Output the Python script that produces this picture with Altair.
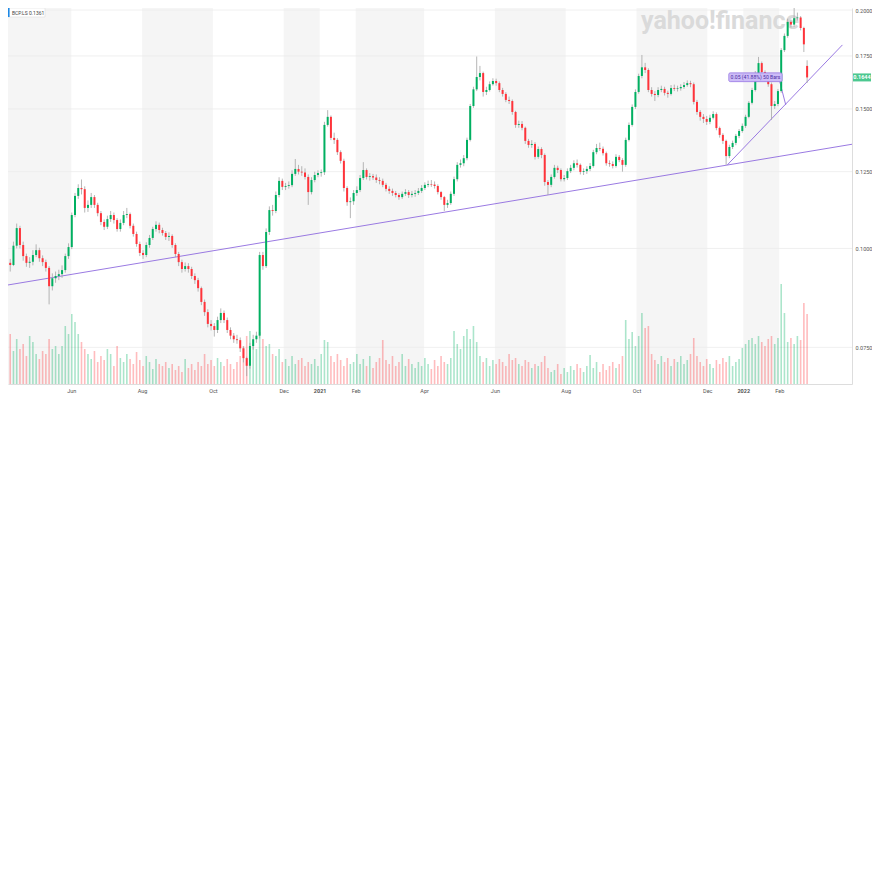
import altair as alt
import pandas as pd

# ---------------- data ----------------
first_open = 0.0995
open_gaps = {249: 0.1700}   # candle index -> opening price after a gap
closes = [
    .0989, .0992, .0959, .0953, .1008, .1061, .1010, .0978, .0959, .0962,
    .0981, .0995, .0972, .0961, .0945, .0896, .0917, .0923, .0928, .0939,
    .0978, .1004, .1102, .1165, .1192, .1188, .1125, .1135, .1161, .1135,
    .1108, .1080, .1065, .1089, .1102, .1086, .1058, .1077, .1102, .1105,
    .1068, .1043, .1013, .0987, .0981, .1010, .1031, .1058, .1071, .1055,
    .1046, .1034, .1037, .1010, .0984, .0961, .0942, .0950, .0942, .0923,
    .0912, .0891, .0856, .0831, .0803, .0798, .0789, .0812, .0829, .0812,
    .0789, .0776, .0768, .0766, .0748, .0727, .0711, .0753, .0768, .0776,
    .0981, .0950, .1049, .1118, .1115, .1168, .1217, .1196, .1199, .1202,
    .1242, .1260, .1250, .1247, .1231, .1178, .1220, .1238, .1245, .1248,
    .1432, .1466, .1379, .1371, .1323, .1290, .1192, .1144, .1147, .1175,
    .1185, .1227, .1256, .1231, .1234, .1229, .1220, .1217, .1203, .1189,
    .1182, .1175, .1168, .1161, .1172, .1178, .1168, .1172, .1175, .1182,
    .1192, .1203, .1206, .1204, .1199, .1178, .1161, .1135, .1141, .1172,
    .1223, .1275, .1281, .1300, .1371, .1513, .1588, .1646, .1665, .1576,
    .1585, .1612, .1627, .1617, .1585, .1567, .1540, .1535, .1487, .1432,
    .1436, .1420, .1367, .1351, .1355, .1305, .1335, .1312, .1213, .1203,
    .1231, .1264, .1256, .1223, .1227, .1252, .1264, .1281, .1275, .1249,
    .1252, .1260, .1271, .1323, .1339, .1336, .1319, .1281, .1278, .1271,
    .1305, .1293, .1275, .1371, .1432, .1509, .1576, .1651, .1693, .1680,
    .1585, .1567, .1562, .1585, .1590, .1572, .1567, .1594, .1590, .1593,
    .1599, .1608, .1617, .1612, .1531, .1487, .1466, .1457, .1445, .1462,
    .1478, .1419, .1391, .1367, .1308, .1343, .1359, .1387, .1407, .1428,
    .1466, .1527, .1585, .1665, .1714, .1670, .1636, .1612, .1513, .1522,
    .1580, .1780, .1855, .1932, .1917, .1953, .1957, .1898, .1810, .1644,
]
highs = [
    .1010, .1005, .0998, .0970, .1020, .1075, .1068, .1020, .0985, .0975,
    .0995, .1012, .1002, .0980, .0968, .0950, .0930, .0935, .0940, .0952,
    .0985, .1015, .1110, .1175, .1205, .1222, .1198, .1150, .1175, .1168,
    .1142, .1115, .1088, .1100, .1115, .1110, .1092, .1088, .1115, .1125,
    .1110, .1075, .1050, .1020, .0995, .1018, .1040, .1065, .1082, .1078,
    .1062, .1052, .1048, .1042, .1015, .0990, .0968, .0960, .0958, .0948,
    .0930, .0918, .0895, .0862, .0838, .0812, .0805, .0820, .0840, .0835,
    .0818, .0795, .0782, .0778, .0772, .0752, .0730, .0760, .0778, .0785,
    .0990, .0990, .1060, .1130, .1135, .1180, .1230, .1225, .1210, .1215,
    .1255, .1297, .1275, .1270, .1262, .1240, .1230, .1250, .1255, .1258,
    .1445, .1495, .1472, .1400, .1378, .1330, .1298, .1198, .1160, .1185,
    .1198, .1238, .1285, .1262, .1245, .1242, .1240, .1230, .1225, .1210,
    .1198, .1190, .1182, .1175, .1180, .1188, .1185, .1182, .1185, .1192,
    .1202, .1212, .1218, .1220, .1215, .1205, .1182, .1165, .1152, .1180,
    .1232, .1285, .1295, .1312, .1380, .1522, .1600, .1747, .1700, .1672,
    .1600, .1625, .1640, .1638, .1625, .1595, .1575, .1555, .1542, .1492,
    .1450, .1448, .1425, .1375, .1370, .1362, .1345, .1342, .1318, .1220,
    .1240, .1275, .1272, .1262, .1238, .1262, .1275, .1292, .1295, .1280,
    .1262, .1270, .1282, .1332, .1355, .1360, .1345, .1325, .1292, .1288,
    .1315, .1312, .1300, .1380, .1442, .1520, .1588, .1662, .1755, .1715,
    .1688, .1598, .1580, .1598, .1605, .1600, .1582, .1608, .1610, .1605,
    .1612, .1622, .1630, .1628, .1620, .1540, .1495, .1478, .1470, .1475,
    .1490, .1485, .1425, .1398, .1372, .1352, .1368, .1395, .1415, .1438,
    .1475, .1535, .1595, .1675, .1745, .1722, .1678, .1645, .1620, .1535,
    .1590, .1790, .1868, .1950, .1945, .2035, .1985, .1965, .1905, .1728,
]
lows = [
    .0975, .0970, .0945, .0935, .0950, .1000, .1000, .0965, .0948, .0945,
    .0952, .0975, .0962, .0950, .0935, .0850, .0885, .0905, .0912, .0918,
    .0932, .0970, .0998, .1095, .1155, .1170, .1110, .1112, .1125, .1125,
    .1098, .1070, .1055, .1058, .1080, .1075, .1050, .1050, .1070, .1092,
    .1060, .1035, .1005, .0978, .0970, .0975, .1002, .1025, .1050, .1045,
    .1038, .1025, .1022, .1002, .0975, .0950, .0932, .0935, .0932, .0915,
    .0902, .0882, .0848, .0822, .0795, .0788, .0774, .0782, .0805, .0805,
    .0782, .0768, .0760, .0758, .0740, .0718, .0690, .0705, .0745, .0760,
    .0770, .0940, .0945, .1040, .1100, .1108, .1160, .1185, .1185, .1190,
    .1195, .1235, .1240, .1235, .1222, .1135, .1170, .1212, .1230, .1232,
    .1238, .1425, .1370, .1355, .1312, .1280, .1180, .1132, .1092, .1135,
    .1165, .1178, .1220, .1222, .1218, .1220, .1210, .1205, .1195, .1180,
    .1172, .1165, .1160, .1152, .1155, .1165, .1158, .1160, .1162, .1168,
    .1175, .1185, .1195, .1196, .1190, .1170, .1152, .1115, .1125, .1135,
    .1165, .1215, .1265, .1270, .1292, .1365, .1505, .1580, .1630, .1555,
    .1562, .1578, .1605, .1605, .1575, .1555, .1530, .1522, .1475, .1420,
    .1420, .1410, .1355, .1340, .1340, .1295, .1298, .1300, .1200, .1168,
    .1195, .1225, .1245, .1215, .1215, .1220, .1245, .1255, .1265, .1240,
    .1238, .1242, .1252, .1265, .1315, .1328, .1310, .1272, .1268, .1262,
    .1265, .1285, .1250, .1268, .1365, .1425, .1500, .1568, .1640, .1665,
    .1575, .1555, .1535, .1552, .1575, .1560, .1550, .1560, .1580, .1578,
    .1582, .1590, .1600, .1598, .1520, .1475, .1450, .1440, .1432, .1435,
    .1455, .1410, .1380, .1355, .1275, .1300, .1335, .1350, .1378, .1400,
    .1420, .1460, .1520, .1578, .1655, .1660, .1625, .1600, .1453, .1500,
    .1512, .1572, .1770, .1845, .1900, .1905, .1940, .1885, .1770, .1618,
]
volumes = [  # millions of shares
    45, 55, 40, 50, 33, 45, 35, 40, 28, 48, 42, 30,
    25, 33, 30, 45, 35, 38, 30, 38, 58, 50, 70, 62, 50, 42, 35,
    30, 25, 33, 22, 28, 24, 35, 30, 18, 38, 26, 22, 30, 25, 20, 32, 24, 18,
    28, 22, 15, 25, 20, 18, 22, 16, 20, 14, 18, 12, 25, 16, 20, 14, 22, 18,
    30, 20, 24, 18, 26, 22, 18, 25, 20, 15, 22, 28, 38, 48, 53, 40, 35, 52,
    45, 38, 40, 30, 28, 35, 22, 25, 18, 28, 20, 24, 26, 18, 22, 20, 25, 18,
    30, 44, 42, 28, 22, 30, 24, 18, 26, 20, 22, 30, 20, 25, 18, 28, 16, 22,
    26, 44, 24, 20, 28, 18, 22, 30, 18, 25, 20, 16, 22, 18, 26, 20, 15, 24,
    18, 28, 22, 20, 26, 53, 40, 35, 48, 55, 45, 58, 42, 28, 22, 26, 18, 24,
    20, 25, 22, 18, 30, 24, 26, 20, 18, 24, 22, 16, 20, 18, 22, 28, 16, 12,
    14, 20, 10, 16, 12, 18, 14, 20, 16, 12, 18, 29, 16, 22, 12, 20, 14, 18,
    22, 16, 20, 28, 64, 45, 52, 38, 48, 71, 56, 58, 30, 24, 20, 28, 22, 26,
    18, 25, 22, 28, 20, 24, 30, 46, 28, 22, 18, 25, 20, 16, 24, 20, 26, 22,
    28, 18, 22, 25, 36, 40, 44, 46, 40, 48, 42, 38, 45, 48, 40, 46, 100, 71,
    42, 46, 40, 48, 44, 81, 70,
]
assert len(closes) == len(highs) == len(lows) == len(volumes), (
    len(closes), len(highs), len(lows), len(volumes))

tick_prices = [0.075, 0.1, 0.125, 0.15, 0.175, 0.2]
month_ticks = [(2020, 6), (2020, 8), (2020, 10), (2020, 12), (2021, 1), (2021, 2),
               (2021, 4), (2021, 6), (2021, 8), (2021, 10), (2021, 12), (2022, 1), (2022, 2)]
band_starts = ["2020-04-01", "2020-08-01", "2020-12-01", "2021-02-01", "2021-06-01", "2021-10-01", "2022-01-01"]
band_ends = ["2020-06-01", "2020-10-01", "2021-01-01", "2021-04-01", "2021-08-01", "2021-12-01", "2022-02-01"]

trend_ids = ["t1", "t1", "t2", "t2", "m", "m"]
trend_dates = ["2020-04-05T00:00:00Z", "2022-04-06T07:00:00Z",
               "2021-12-18T07:00:00Z", "2022-03-27T10:00:00Z",
               "2022-02-01T10:00:00Z", "2022-02-06T14:00:00Z"]
trend_prices = [0.0898, 0.1355, 0.1275, 0.1807, 0.1624, 0.1518]

last_price = 0.1644
legend_text = "BCP.LS 0.1361"
measure_text = "0.05 (41.88%) 50 Bars"

# ---------------- frames ----------------
n = len(closes)
dates = pd.date_range("2020-04-01", "2022-02-25", periods=n, tz="UTC")
opens = [first_open] + closes[:-1]
for k, v in open_gaps.items():
    opens[k] = v
df = pd.DataFrame({
    "date": dates.strftime("%Y-%m-%dT%H:%M:%SZ"),
    "open": opens, "close": closes, "high": highs, "low": lows, "volume": volumes,
})
df["dir"] = ["up" if c >= o else "down" for o, c in zip(opens, closes)]

bands = pd.DataFrame({"start": band_starts, "end": band_ends})
grid = pd.DataFrame({"p": tick_prices})
trend = pd.DataFrame({"id": trend_ids, "date": trend_dates, "price": trend_prices})
box = pd.DataFrame({"d1": ["2021-12-19T12:00:00Z"], "d2": ["2022-02-03T12:00:00Z"],
                    "dm": ["2022-01-11T12:00:00Z"],
                    "p1": [0.1666], "p2": [0.1624], "pm": [0.1645], "label": [measure_text]})
tag = pd.DataFrame({"p": [last_price], "label": [f"{last_price:.4f}"]})
leg = pd.DataFrame({"label": [legend_text]})
wm = pd.DataFrame({"label": ["yahoo!finance"]})

W, H = 844, 376
FONT = "Roboto"
GREEN, RED = "#00b061", "#ff333a"
PURPLE = "#8e6bdf"

x_scale = alt.Scale(type="utc", domain=[
    alt.DateTime(year=2020, month=4, date=11, hours=18, minutes=23, utc=True),
    alt.DateTime(year=2022, month=3, date=31, hours=8, minutes=53, utc=True)])
p_scale = alt.Scale(type="log", domain=[0.06743, 0.20117], nice=False)

x_axis = alt.Axis(
    values=[alt.DateTime(year=y, month=m, date=1, utc=True) for y, m in month_ticks],
    labelExpr="utcmonth(datum.value) == 0 ? utcFormat(datum.value, '%Y') : utcFormat(datum.value, '%b')",
    labelFontWeight={"condition": {"test": "utcmonth(datum.value) == 0", "value": "bold"}, "value": "normal"},
    title=None, ticks=False, grid=False, domainColor="#dddddd",
    labelFontSize=5.5, labelColor="#555555", labelPadding=4, labelFont=FONT)
y_axis = alt.Axis(orient="right", values=tick_prices, format=".4f", title=None,
                  ticks=False, grid=False, domainColor="#dddddd",
                  labelFontSize=5.5, labelColor="#555555", labelPadding=3, labelFont=FONT)

X = lambda f: alt.X(f, type="temporal", scale=x_scale, axis=x_axis)
Yp = lambda f: alt.Y(f, type="quantitative", scale=p_scale, axis=y_axis)
col = alt.Color("dir:N", scale=alt.Scale(domain=["up", "down"], range=[GREEN, RED]), legend=None)

band_layer = alt.Chart(bands).mark_rect(color="#f5f5f5", clip=True).encode(
    x=X("start"), x2="end", y=alt.value(0), y2=alt.value(H))
grid_layer = alt.Chart(grid).mark_rule(color="#ececec", strokeWidth=0.8).encode(
    y=alt.Y("p:Q", scale=p_scale, axis=None))
wm_layer = alt.Chart(wm).mark_text(font=FONT, fontSize=25, fontWeight="bold", color="#dadada",
                                   align="center", baseline="alphabetic").encode(
    x=alt.value(712), y=alt.value(21), text="label:N")
vol_layer = alt.Chart(df).mark_bar(width=1.6, opacity=0.33).encode(
    x=X("date"), y=alt.Y("volume:Q", scale=alt.Scale(domain=[0, 376], nice=False), axis=None),
    color=col)

trend_layer = alt.Chart(trend).mark_line(color=PURPLE, strokeWidth=0.9, clip=True).encode(
    x=X("date"), y=Yp("price"), detail="id:N")
wick_layer = alt.Chart(df).mark_rule(color="#a3a3a3", strokeWidth=0.8, clip=True).encode(
    x=X("date"), y=Yp("low"), y2="high")
body_layer = alt.Chart(df).mark_bar(width=2, clip=True).encode(
    x=X("date"), y=Yp("open"), y2="close", color=col)
box_layer = alt.Chart(box).mark_rect(fill="#cdbcf7", stroke=PURPLE, strokeWidth=0.7,
                                     cornerRadius=1.5).encode(
    x=X("d1"), x2="d2", y=Yp("p1"), y2="p2")
box_text = alt.Chart(box).mark_text(font=FONT, fontSize=5.1, color="#4b2fa3",
                                    align="center", baseline="middle").encode(
    x=X("dm"), y=Yp("pm"), text="label:N")
tag_layer = alt.Chart(tag).mark_tick(orient="horizontal", size=18, thickness=8, color=GREEN).encode(
    x=alt.value(W + 10), y=Yp("p"))
tag_text = alt.Chart(tag).mark_text(font=FONT, fontSize=5.5, color="white", fontWeight="bold",
                                    align="center", baseline="middle").encode(
    x=alt.value(W + 10), y=Yp("p"), text="label:N")

price_group = alt.layer(trend_layer, wick_layer, body_layer, box_layer, box_text, tag_layer, tag_text)

leg_box = alt.Chart(leg).mark_rect(fill="white", stroke="#dddddd", strokeWidth=0.6).encode(
    x=alt.value(0), x2=alt.value(37), y=alt.value(0), y2=alt.value(9))
leg_bar = alt.Chart(leg).mark_rect(fill="#1e88e5").encode(
    x=alt.value(0), x2=alt.value(1.6), y=alt.value(0), y2=alt.value(9))
leg_text = alt.Chart(leg).mark_text(font=FONT, fontSize=5, color="#444444", align="left",
                                    baseline="middle").encode(
    x=alt.value(4), y=alt.value(4.5), text="label:N")

chart = alt.layer(
    band_layer, grid_layer, wm_layer, vol_layer, price_group, leg_box, leg_bar, leg_text
).resolve_scale(y="independent").properties(
    width=W, height=H,
    padding={"left": 0, "top": 0, "right": 20, "bottom": 20},
    autosize=alt.AutoSizeParams(type="none"),
    background="white",
).configure_view(stroke=None)

chart.save("out.html", embed_options={"renderer": "svg", "actions": False})
